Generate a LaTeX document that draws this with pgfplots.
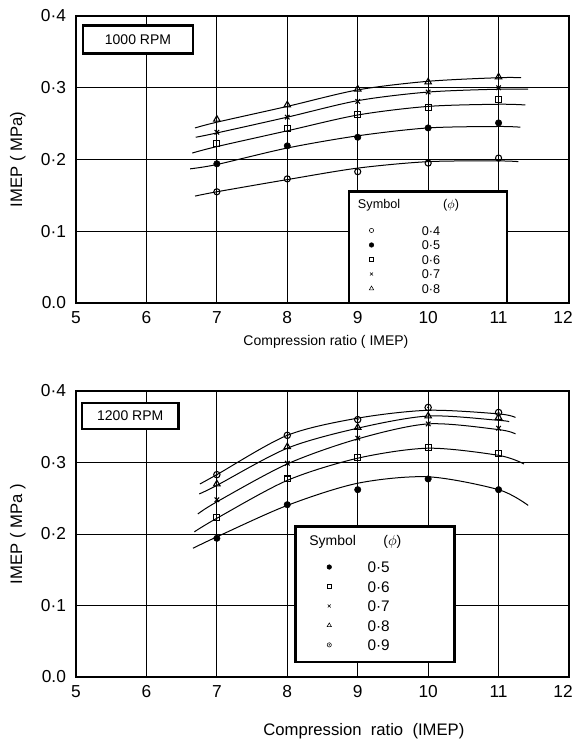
\documentclass[border=0pt]{standalone}
\usepackage{fontspec}
\setmainfont{Liberation Sans}
\usepackage{pgfplots}
\pgfplotsset{compat=1.18}

% circle with a centre dot
\pgfdeclareplotmark{odot}{%
  \pgfpathcircle{\pgfpointorigin}{\pgfplotmarksize}\pgfusepathqstroke
  \pgfpathcircle{\pgfpointorigin}{0.35\pgfplotmarksize}\pgfusepathqfill}

\pgfplotsset{
  imepax/.style={
    scale only axis, width=369.75pt, height=215.25pt,
    xmin=5, xmax=12, ymin=0, ymax=0.4,
    xtick={5,6,7,8,9,10,11,12}, xticklabels={5,6,7,8,9,10,11,{\hspace*{-9pt}12}},
    ytick={0,0.1,0.2,0.3,0.4}, yticklabels={0.0,0·1,0·2,0·3,0·4},
    grid=major, grid style={black, line width=0.6pt},
    axis line style={line width=1.1pt},
    major tick length=0pt,
    tick label style={font=\fontsize{13}{15}\selectfont},
    xticklabel style={yshift=-3pt},
    yticklabel style={xshift=-4pt},
    ylabel style={at={(axis description cs:-0.118,0.5)}, anchor=center,
      font=\fontsize{12.5}{14}\selectfont},
    legend cell align=left,
  },
  curve/.style={black, line width=0.75pt, smooth, no marks, forget plot},
  pA/.style={black, only marks, forget plot, mark=o, mark size=2.3pt, mark options={fill=white, line width=0.8pt}},
  pB/.style={black, only marks, forget plot, mark=*, mark size=2.4pt},
  pC/.style={black, only marks, forget plot, mark=square, mark size=2.2pt, mark options={fill=white, line width=0.8pt}},
  pD/.style={black, only marks, forget plot, mark=x, mark size=2.4pt, mark options={line width=0.8pt}},
  pE/.style={black, only marks, forget plot, mark=triangle, mark size=2.8pt, mark options={fill=white, line width=0.8pt}},
  pF/.style={black, only marks, forget plot, mark=odot, mark size=2.4pt, mark options={fill=black, line width=0.8pt}},
}

\begin{document}
\begin{tikzpicture}
\path[use as bounding box] (0,0) rectangle (432pt,561.75pt);

% ---------------- 1000 RPM ----------------
\begin{axis}[imepax, at={(57pt,334.5pt)}, anchor=south west,
  ylabel={IMEP ( MPa)},
  xlabel={Compression ratio ( IMEP)},
  xlabel style={at={(axis description cs:0.507,-0.136)}, anchor=center,
    font=\fontsize{10.5}{12}\selectfont},
  legend style={at={(axis cs:9.16,0.108)}, anchor=north west, draw=none, fill=none,
    inner sep=0pt, font=\fontsize{9.5}{10}\selectfont, row sep=3.9pt, column sep=36pt,
    nodes={inner sep=0pt, text height=7pt, text depth=0pt}},
]
% fitted curves
\addplot[curve] coordinates {(6.69,0.149)(7,0.155)(8,0.172)(9,0.188)(10,0.197)(11,0.198)(11.28,0.197)};
\addplot[curve] coordinates {(6.62,0.187)(7,0.193)(8,0.216)(9,0.233)(10,0.244)(11,0.246)(11.31,0.245)};
\addplot[curve] coordinates {(6.65,0.209)(7,0.218)(8,0.240)(9,0.262)(10,0.274)(11,0.277)(11.38,0.276)};
\addplot[curve] coordinates {(6.70,0.231)(7,0.237)(8,0.259)(9,0.282)(10,0.294)(11,0.298)(11.42,0.298)};
\addplot[curve] coordinates {(6.69,0.244)(7,0.252)(8,0.274)(9,0.297)(10,0.309)(11,0.314)(11.32,0.314)};
% measured points
\addplot[pA] coordinates {(7,0.155)(8,0.173)(9,0.183)(10,0.195)(11,0.202)};
\addplot[pB] coordinates {(7,0.194)(8,0.219)(9,0.231)(10,0.244)(11,0.251)};
\addplot[pC] coordinates {(7,0.222)(8,0.243)(9,0.263)(10,0.273)(11,0.284)};
\addplot[pD] coordinates {(7,0.238)(8,0.259)(9,0.281)(10,0.294)(11,0.300)};
\addplot[pE] coordinates {(7,0.256)(8,0.276)(9,0.298)(10,0.308)(11,0.315)};
% speed tag and legend frame
\draw[line width=2pt, fill=white] (axis cs:5.10,0.348) rectangle (axis cs:6.66,0.387);
\node[font=\fontsize{10.5}{12}\selectfont] at (axis cs:5.88,0.3675) {1000 RPM};
\draw[line width=2.2pt, fill=white] (axis cs:8.876,0) rectangle (axis cs:11.12,0.156);
\node[anchor=west, inner sep=0pt, font=\fontsize{9.5}{11}\selectfont] at (axis cs:9.00,0.1366) {Symbol};
\node[anchor=west, inner sep=0pt, font=\fontsize{9.5}{11}\selectfont] at (axis cs:10.21,0.1366) {($\phi$)};
\addlegendimage{black, only marks, mark=o, mark size=1.6pt}
\addlegendentry{0·4}
\addlegendimage{black, only marks, mark=*, mark size=1.7pt}
\addlegendentry{0·5}
\addlegendimage{black, only marks, mark=square, mark size=1.6pt}
\addlegendentry{0·6}
\addlegendimage{black, only marks, mark=x, mark size=1.6pt}
\addlegendentry{0·7}
\addlegendimage{black, only marks, mark=triangle, mark size=1.9pt}
\addlegendentry{0·8}
\end{axis}

% ---------------- 1200 RPM ----------------
\begin{axis}[imepax, at={(57pt,54pt)}, anchor=south west, height=214.5pt,
  ylabel={IMEP ( MPa )},
  xlabel={Compression\ \ ratio\ \ (IMEP)},
  xlabel style={at={(axis description cs:0.584,-0.189)}, anchor=center,
    font=\fontsize{12.5}{14}\selectfont},
  legend style={at={(axis cs:8.56,0.162)}, anchor=north west, draw=none, fill=none,
    inner sep=0pt, font=\fontsize{11.5}{12}\selectfont, row sep=6.2pt, column sep=27pt,
    nodes={inner sep=0pt, text height=8.4pt, text depth=0pt}},
]
% fitted curves
\addplot[curve] coordinates {(6.66,0.180)(7,0.196)(8,0.240)(9,0.271)(10,0.280)(11,0.262)(11.42,0.240)};
\addplot[curve] coordinates {(6.68,0.203)(7,0.222)(8,0.275)(9,0.306)(10,0.320)(11,0.310)(11.36,0.298)};
\addplot[curve] coordinates {(6.73,0.228)(7,0.245)(8,0.298)(9,0.333)(10,0.354)(11,0.346)(11.24,0.340)};
\addplot[curve] coordinates {(6.75,0.256)(7,0.268)(8,0.320)(9,0.348)(10,0.365)(11,0.359)(11.15,0.357)};
\addplot[curve] coordinates {(6.76,0.270)(7,0.283)(8,0.338)(9,0.362)(10,0.373)(11,0.368)(11.24,0.363)};
% measured points
\addplot[pB] coordinates {(7,0.194)(8,0.241)(9,0.262)(10,0.277)(11,0.262)};
\addplot[pC] coordinates {(7,0.223)(8,0.277)(9,0.307)(10,0.321)(11,0.313)};
\addplot[pD] coordinates {(7,0.248)(8,0.299)(9,0.334)(10,0.354)(11,0.348)};
\addplot[pE] coordinates {(7,0.270)(8,0.322)(9,0.349)(10,0.365)(11,0.363)};
\addplot[pF] coordinates {(7,0.283)(8,0.338)(9,0.360)(10,0.377)(11,0.370)};
% speed tag and legend frame
\draw[line width=2pt, fill=white] (axis cs:5.085,0.347) rectangle (axis cs:6.46,0.383);
\node[font=\fontsize{10.5}{12}\selectfont] at (axis cs:5.77,0.365) {1200 RPM};
\draw[line width=2.2pt, fill=white] (axis cs:8.11,0.021) rectangle (axis cs:10.38,0.210);
\node[anchor=west, inner sep=0pt, font=\fontsize{10.5}{12}\selectfont] at (axis cs:8.31,0.1888) {Symbol};
\node[anchor=west, inner sep=0pt, font=\fontsize{10.5}{12}\selectfont] at (axis cs:9.36,0.1888) {($\phi$)};
\addlegendimage{black, only marks, mark=*, mark size=1.7pt}
\addlegendentry{0·5}
\addlegendimage{black, only marks, mark=square, mark size=1.6pt}
\addlegendentry{0·6}
\addlegendimage{black, only marks, mark=x, mark size=1.6pt}
\addlegendentry{0·7}
\addlegendimage{black, only marks, mark=triangle, mark size=1.9pt}
\addlegendentry{0·8}
\addlegendimage{black, only marks, mark=odot, mark size=1.6pt}
\addlegendentry{0·9}
\end{axis}
\end{tikzpicture}
\end{document}
